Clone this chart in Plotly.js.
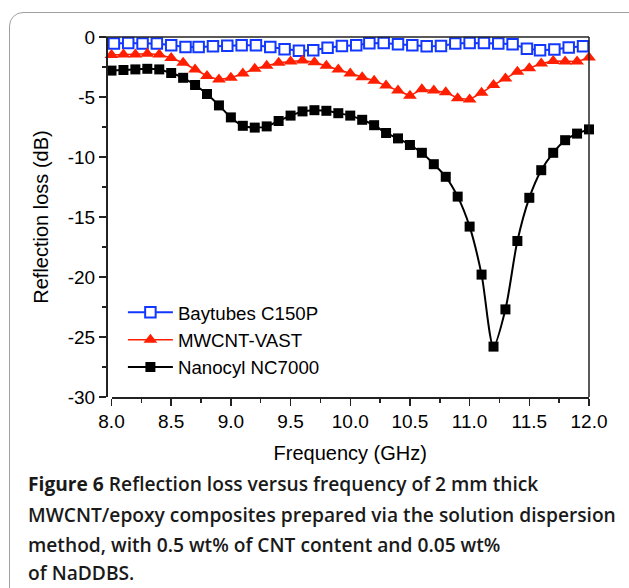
<!DOCTYPE html>
<html>
<head>
<meta charset="utf-8">
<script src="https://cdn.plot.ly/plotly-3.0.1.min.js"></script>
<style>
  html, body { margin: 0; padding: 0; background: #ffffff; }
  #wrap { position: relative; width: 629px; height: 588px; overflow: hidden; }
  #frame { position: absolute; left: 9px; top: 12px; width: 660px; height: 620px;
           border: 1.5px solid #a0a0a0; border-radius: 14px; box-sizing: border-box; }
  #chart { position: absolute; left: 0; top: 0; width: 629px; height: 588px; }
</style>
</head>
<body>
<div id="wrap">
  <div id="frame"></div>
  <div id="chart"></div>
</div>
<script>
// ---- data ----
const freq = [8.0, 8.1, 8.2, 8.3, 8.4, 8.5, 8.6, 8.7, 8.8, 8.9,
              9.0, 9.1, 9.2, 9.3, 9.4, 9.5, 9.6, 9.7, 9.8, 9.9,
              10.0, 10.1, 10.2, 10.3, 10.4, 10.5, 10.6, 10.7, 10.8, 10.9,
              11.0, 11.1, 11.2, 11.3, 11.4, 11.5, 11.6, 11.7, 11.8, 11.9, 12.0];

const nanocyl = [-2.8, -2.75, -2.7, -2.65, -2.7, -3.0, -3.4, -4.0, -4.75, -5.7,
                 -6.7, -7.4, -7.55, -7.45, -7.0, -6.55, -6.2, -6.1, -6.15, -6.35,
                 -6.55, -6.9, -7.35, -8.0, -8.45, -9.0, -9.65, -10.6, -11.65, -13.3,
                 -15.8, -19.8, -25.8, -22.7, -17.0, -13.4, -11.1, -9.65, -8.6, -8.05, -7.7];

const mwcntVast = [-1.5, -1.45, -1.45, -1.4, -1.45, -1.75, -2.15, -2.7, -3.25, -3.55,
                   -3.4, -3.05, -2.65, -2.4, -2.15, -2.05, -1.95, -2.1, -2.4, -2.7,
                   -3.05, -3.35, -3.65, -4.05, -4.45, -4.9, -4.35, -4.45, -4.6, -5.1,
                   -5.2, -4.65, -4.0, -3.45, -2.9, -2.6, -2.2, -2.0, -2.05, -2.05, -1.7];

const baytubesFreq = [8.02, 8.14, 8.26, 8.38, 8.50, 8.62, 8.73, 8.85, 8.97, 9.09,
                      9.21, 9.33, 9.45, 9.57, 9.69, 9.81, 9.93, 10.05, 10.16, 10.28,
                      10.40, 10.52, 10.64, 10.76, 10.88, 11.00, 11.12, 11.24, 11.36, 11.48,
                      11.59, 11.71, 11.83, 11.95];
const baytubes = [-0.55, -0.5, -0.55, -0.55, -0.69, -0.83, -0.83, -0.78, -0.72, -0.69,
                  -0.69, -0.83, -1.03, -1.15, -1.1, -0.89, -0.75, -0.69, -0.52, -0.5,
                  -0.61, -0.69, -0.78, -0.75, -0.55, -0.5, -0.5, -0.55, -0.6, -0.97,
                  -1.1, -1.05, -0.88, -0.78];

const seriesNames = ['Baytubes C150P', 'MWCNT-VAST', 'Nanocyl NC7000'];

const xTickVals = [8.0, 8.5, 9.0, 9.5, 10.0, 10.5, 11.0, 11.5, 12.0];
const xTickText = ['8.0', '8.5', '9.0', '9.5', '10.0', '10.5', '11.0', '11.5', '12.0'];
const yTickVals = [0, -5, -10, -15, -20, -25, -30];
const yTickText = ['0', '-5', '-10', '-15', '-20', '-25', '-30'];

const xTitle = 'Frequency (GHz)';
const yTitle = 'Reflection loss (dB)';
const captionLines = [
  '<b>Figure 6</b> Reflection loss versus frequency of 2 mm thick',
  'MWCNT/epoxy composites prepared via the solution dispersion',
  'method, with 0.5 wt% of CNT content and 0.05 wt%',
  'of NaDDBS.'
];

// ---- styling ----
const FONT = 'Arial, "Liberation Sans", sans-serif';
const BLUE = '#1238ff';
const RED = '#ff1e00';
const BLACK = '#000000';
const AX = '#222222';

const traces = [
  {
    x: baytubesFreq, y: baytubes, name: seriesNames[0], type: 'scatter', mode: 'lines+markers',
    line: {color: BLUE, width: 2},
    marker: {symbol: 'square', size: 10.5, color: '#ffffff', line: {color: BLUE, width: 2}},
    cliponaxis: false
  },
  {
    x: freq, y: mwcntVast, name: seriesNames[1], type: 'scatter', mode: 'lines+markers',
    line: {color: RED, width: 1.5},
    marker: {symbol: 'triangle-up', size: 12, color: RED},
    cliponaxis: false
  },
  {
    x: freq, y: nanocyl, name: seriesNames[2], type: 'scatter', mode: 'lines+markers',
    line: {color: BLACK, width: 2, shape: 'spline', smoothing: 0.8},
    marker: {symbol: 'square', size: 10, color: BLACK},
    cliponaxis: false
  }
];

const captionAnnotations = captionLines.map((t, i) => ({
  text: t, xref: 'paper', yref: 'paper',
  x: (26 - 106) / 483, y: (396.5 - [483, 514, 544, 572][i]) / 360,
  xanchor: 'left', yanchor: 'middle', showarrow: false, align: 'left',
  font: {family: '"Open Sans", "Noto Sans", sans-serif', size: 19.2, color: '#1a1a1a', weight: 600}
}));

const layout = {
  width: 629, height: 588,
  margin: {l: 106, r: 40, t: 37, b: 191},
  paper_bgcolor: 'rgba(0,0,0,0)',
  plot_bgcolor: 'rgba(0,0,0,0)',
  showlegend: true,
  legend: {
    x: 0.035, y: 0.287, xanchor: 'left', yanchor: 'top',
    font: {family: FONT, size: 18.7, color: '#000'},
    bgcolor: 'rgba(0,0,0,0)', borderwidth: 0, itemwidth: 45,
    tracegroupgap: 0
  },
  xaxis: {
    domain: [0.0114, 1], range: [8, 12],
    tickvals: xTickVals, ticktext: xTickText,
    ticks: 'outside', ticklen: 7, tickwidth: 1.5, tickcolor: AX,
    minor: {ticks: 'outside', ticklen: 4, tickwidth: 1.5, tickcolor: AX, dtick: 0.25, tick0: 8, showgrid: false},
    showline: true, linecolor: AX, linewidth: 1.5,
    showgrid: false, zeroline: false,
    tickfont: {family: FONT, size: 19, color: '#000'},
    title: {text: xTitle, font: {family: FONT, size: 20, color: '#000'}, standoff: 14}
  },
  yaxis: {
    anchor: 'free', position: 0, range: [-30, 0],
    tickvals: yTickVals, ticktext: yTickText,
    ticks: 'outside', ticklen: 7, tickwidth: 1.5, tickcolor: AX,
    minor: {ticks: 'outside', ticklen: 4, tickwidth: 1.5, tickcolor: AX, dtick: 2.5, tick0: 0, showgrid: false},
    showline: true, linecolor: AX, linewidth: 1.5,
    showgrid: false, zeroline: false,
    tickfont: {family: FONT, size: 19, color: '#000'},
    title: {text: yTitle, font: {family: FONT, size: 20, color: '#000'}, standoff: 12}
  },
  shapes: [
    {type: 'line', xref: 'paper', yref: 'paper', x0: 0, x1: 1, y0: 1, y1: 1, line: {color: AX, width: 1.5}},
    {type: 'line', xref: 'paper', yref: 'paper', x0: 1, x1: 1, y0: 0, y1: 1, line: {color: AX, width: 1.5}}
  ],
  annotations: captionAnnotations
};

Plotly.newPlot('chart', traces, layout, {staticPlot: true, displayModeBar: false});
</script>
</body>
</html>
